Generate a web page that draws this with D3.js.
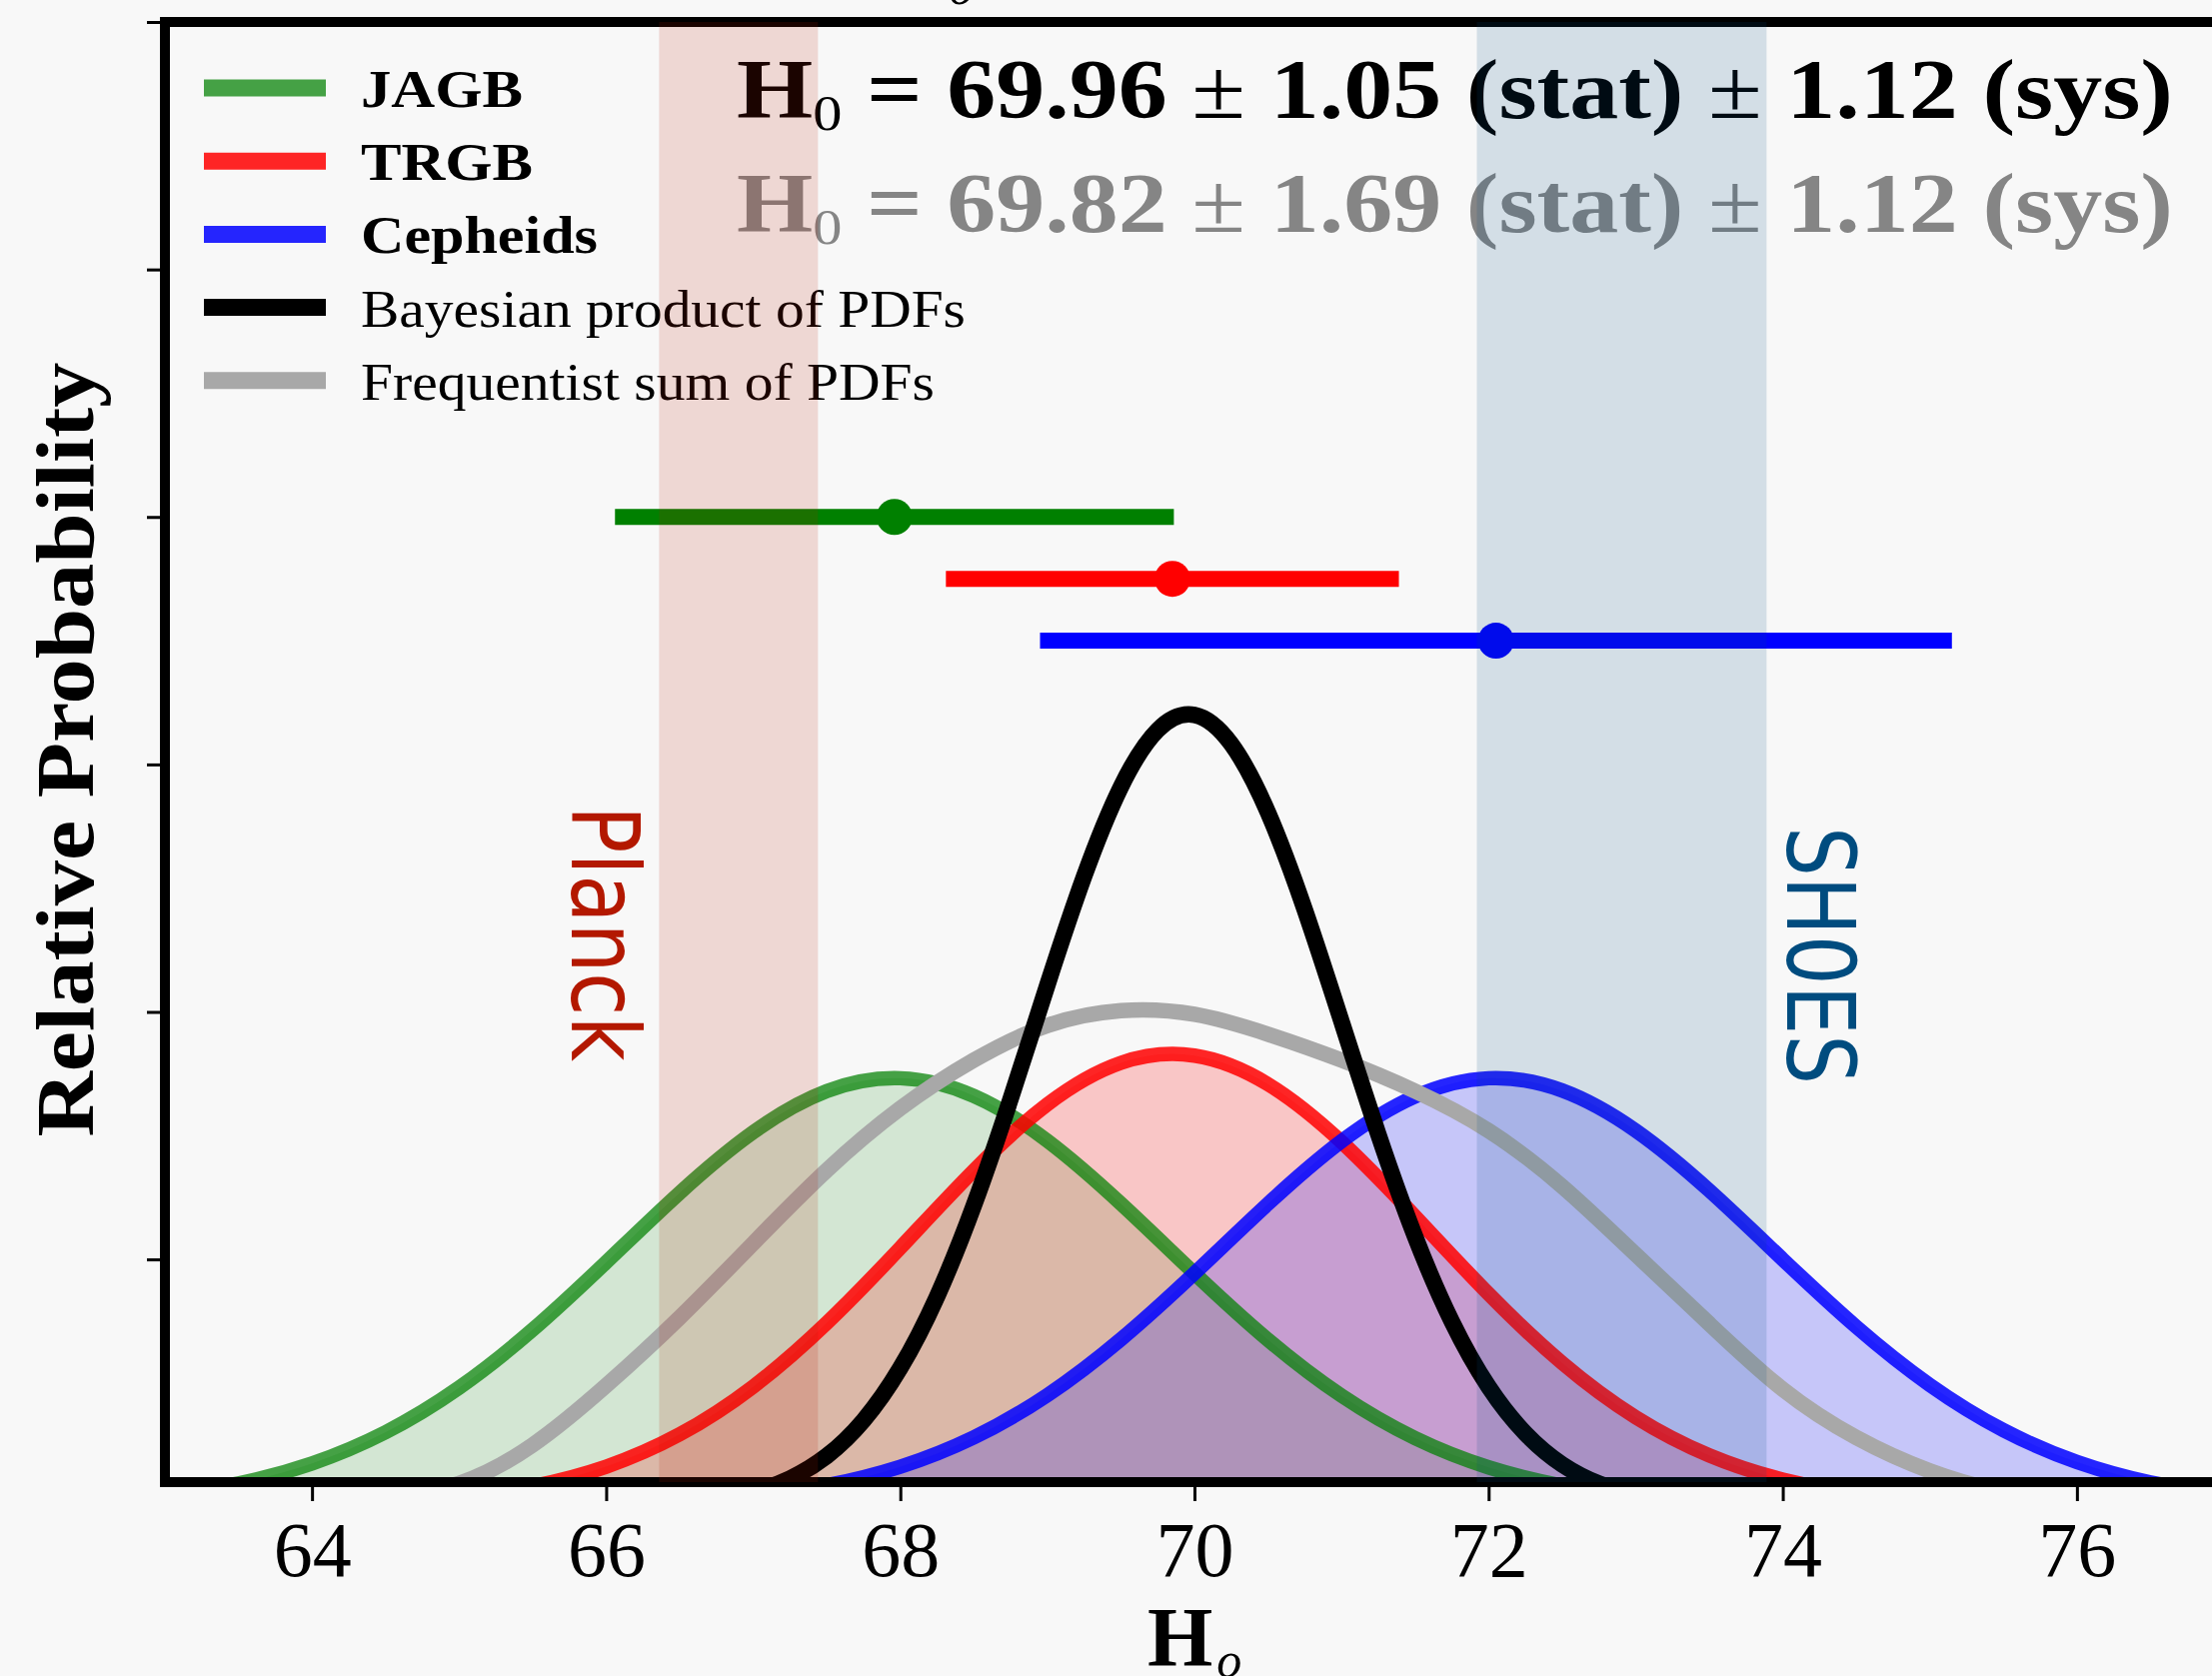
<!DOCTYPE html>
<html>
<head>
<meta charset="utf-8">
<script src="https://cdn.jsdelivr.net/npm/d3@7"></script>
<style>
  html, body { margin: 0; padding: 0; background: #f8f8f8; }
  svg { display: block; }
</style>
</head>
<body>
<div id="viz"></div>
<script>
"use strict";

// H0 grid (km/s/Mpc) for the method PDFs and the frequentist sum
const hGrid = [63.0, 63.5, 64.0, 64.5, 65.0, 65.5, 66.0, 66.5, 67.0, 67.5,
               68.0, 68.5, 69.0, 69.5, 70.0, 70.5, 71.0, 71.5, 72.0, 72.5,
               73.0, 73.5, 74.0, 74.5, 75.0, 75.5, 76.0, 76.5, 77.0];

const jagbPdf = [0.0095, 0.0190, 0.0351, 0.0603, 0.0963, 0.1431, 0.1977, 0.2538, 0.3028, 0.3360,
                 0.3464, 0.3321, 0.2958, 0.2450, 0.1887, 0.1350, 0.0898, 0.0555, 0.0319, 0.0171,
                 0.0085, 0.0039, 0.0017, 0.0007, 0.0002, 0.0001, 0.0, 0.0, 0.0];

const trgbPdf = [0.0002, 0.0005, 0.0014, 0.0034, 0.0079, 0.0167, 0.0325, 0.0586, 0.0972, 0.1486,
                 0.2093, 0.2718, 0.3253, 0.3588, 0.3647, 0.3416, 0.2949, 0.2347, 0.1721, 0.1163,
                 0.0724, 0.0416, 0.0220, 0.0107, 0.0048, 0.0020, 0.0008, 0.0003, 0.0001];

const cepheidPdf = [0.0, 0.0, 0.0, 0.0001, 0.0003, 0.0007, 0.0017, 0.0040, 0.0087, 0.0174,
                    0.0324, 0.0561, 0.0903, 0.1354, 0.1888, 0.2449, 0.2955, 0.3317, 0.3464, 0.3365,
                    0.3041, 0.2557, 0.2000, 0.1455, 0.0985, 0.0620, 0.0363, 0.0198, 0.0100];

const sumPdf = [0.000, 0.001, 0.003, 0.008, 0.019, 0.050, 0.098, 0.153, 0.213, 0.272,
                0.322, 0.361, 0.389, 0.401, 0.398, 0.382, 0.361, 0.336, 0.304, 0.259,
                0.204, 0.148, 0.095, 0.056, 0.029, 0.012, 0.004, 0.001, 0.000];

// finer grid for the narrow Bayesian product
const hGridFine = [66.0, 66.25, 66.5, 66.75, 67.0, 67.25, 67.5, 67.75, 68.0, 68.25, 68.5,
                   68.75, 69.0, 69.25, 69.5, 69.75, 70.0, 70.25, 70.5, 70.75, 71.0, 71.25,
                   71.5, 71.75, 72.0, 72.25, 72.5, 72.75, 73.0, 73.25, 73.5, 73.75, 74.0];

const productPdf = [0.0005, 0.0012, 0.0028, 0.0060, 0.0120, 0.0229, 0.0411, 0.0699, 0.1122, 0.1700, 0.2436,
                    0.3297, 0.4217, 0.5096, 0.5819, 0.6278, 0.6400, 0.6165, 0.5611, 0.4826, 0.3922, 0.3012,
                    0.2185, 0.1497, 0.0970, 0.0594, 0.0343, 0.0188, 0.0097, 0.0047, 0.0022, 0.0010, 0.0004];

// per-method H0 and systematic error bars
const methods = ["JAGB", "TRGB", "Cepheids"];
const methodH0 = [67.96, 69.85, 72.05];
const methodSys = [1.90, 1.54, 3.10];
const methodBarLevel = [0.80, 0.75, 0.70];

// combined results: [H0, stat, sys]
const bayesResult = [69.96, 1.05, 1.12];
const freqResult = [69.82, 1.69, 1.12];

const planckRange = [66.36, 67.44];
const shoesRange = [71.92, 73.89];

const xTicks = [64, 66, 68, 70, 72, 74, 76];
const yTicks = [0.2, 0.4, 0.6, 0.8, 1.0, 1.2];
const legendLabels = ["JAGB", "TRGB", "Cepheids", "Bayesian product of PDFs", "Frequentist sum of PDFs"];

function initChart() {
    let W = 2213, H = 1677;
    let plot = {left: 165, right: 2225, top: 22, bottom: 1483};
    let serif = "'Liberation Serif', 'Times New Roman', serif";

    let methodColors = ["#008000", "#ff0000", "#0000ff"];
    let lineOpacity = [0.72, 0.85, 0.85];
    let fillOpacity = [0.15, 0.2, 0.2];

    let svg = d3.select('#viz')
                .append('svg')
                .attr('width', W)
                .attr('height', H);

    svg.append('rect').attr('width', W).attr('height', H).attr('fill', '#f8f8f8');

    let xScale = d3.scaleLinear().domain([63, 77]).range([plot.left, plot.right]);
    let yScale = d3.scaleLinear().domain([0.02, 1.2]).range([plot.bottom, plot.top]);

    svg.append('defs').append('clipPath').attr('id', 'plotClip')
       .append('rect')
       .attr('x', plot.left).attr('y', plot.top)
       .attr('width', plot.right - plot.left).attr('height', plot.bottom - plot.top);

    let body = svg.append('g').attr('clip-path', 'url(#plotClip)');

    let area = d3.area()
                 .x(d => xScale(d[0]))
                 .y0(yScale(0))
                 .y1(d => yScale(d[1]))
                 .curve(d3.curveNatural);
    let line = d3.line()
                 .x(d => xScale(d[0]))
                 .y(d => yScale(d[1]))
                 .curve(d3.curveNatural);

    let methodPdfs = [jagbPdf, trgbPdf, cepheidPdf].map(p => d3.zip(hGrid, p));

    // shaded PDFs
    methodPdfs.forEach((pts, i) => {
        body.append('path')
            .attr('d', area(pts))
            .attr('fill', methodColors[i])
            .attr('fill-opacity', fillOpacity[i]);
    });
    methodPdfs.forEach((pts, i) => {
        body.append('path')
            .attr('d', line(pts))
            .attr('fill', 'none')
            .attr('stroke', methodColors[i])
            .attr('stroke-opacity', lineOpacity[i])
            .attr('stroke-width', 14.5);
    });

    body.append('path')
        .attr('d', line(d3.zip(hGrid, sumPdf)))
        .attr('fill', 'none')
        .attr('stroke', '#a8a8a8')
        .attr('stroke-width', 15.5);

    body.append('path')
        .attr('d', line(d3.zip(hGridFine, productPdf)))
        .attr('fill', 'none')
        .attr('stroke', '#000')
        .attr('stroke-width', 16.5);

    // error bars (systematic) with central values
    let bars = svg.append('g');
    methods.forEach((m, i) => {
        bars.append('line')
            .attr('x1', xScale(methodH0[i] - methodSys[i]))
            .attr('x2', xScale(methodH0[i] + methodSys[i]))
            .attr('y1', yScale(methodBarLevel[i]))
            .attr('y2', yScale(methodBarLevel[i]))
            .attr('stroke', methodColors[i])
            .attr('stroke-width', 16);
        bars.append('circle')
            .attr('cx', xScale(methodH0[i]))
            .attr('cy', yScale(methodBarLevel[i]))
            .attr('r', 18)
            .attr('fill', methodColors[i]);
    });

    // legend
    let legendStyles = [
        {color: methodColors[0], opacity: lineOpacity[0], bold: true, width: 162},
        {color: methodColors[1], opacity: lineOpacity[1], bold: true, width: 172},
        {color: methodColors[2], opacity: lineOpacity[2], bold: true, width: 237},
        {color: '#000', opacity: 1, bold: false, width: 605},
        {color: '#a8a8a8', opacity: 1, bold: false, width: 574}
    ];
    let legend = svg.append('g');
    legendLabels.forEach((lab, i) => {
        let cy = 88 + i * 73.2;
        let st = legendStyles[i];
        legend.append('line')
              .attr('x1', 204).attr('x2', 326)
              .attr('y1', cy).attr('y2', cy)
              .attr('stroke', st.color)
              .attr('stroke-opacity', st.opacity)
              .attr('stroke-width', 17);
        legend.append('text')
              .attr('x', 361)
              .attr('y', cy + 19)
              .attr('font-family', serif)
              .attr('font-size', 53)
              .attr('font-weight', st.bold ? 'bold' : 'normal')
              .attr('textLength', st.width)
              .attr('lengthAdjust', 'spacingAndGlyphs')
              .text(lab);
    });

    // combined H0 results
    function resultText(res, y, color) {
        let t = svg.append('text')
                   .attr('x', 737).attr('y', y)
                   .attr('font-family', serif)
                   .attr('font-size', 84)
                   .attr('font-weight', 'bold')
                   .attr('fill', color)
                   .attr('textLength', 1437)
                   .attr('lengthAdjust', 'spacingAndGlyphs');
        t.append('tspan').text('H');
        t.append('tspan').attr('font-weight', 'normal').attr('font-size', 50).attr('dy', 12).text('0');
        t.append('tspan').attr('dy', -12).text(' = ' + res[0].toFixed(2) + ' ');
        t.append('tspan').attr('font-weight', 'normal').text('\u00b1');
        t.append('tspan').text(' ' + res[1].toFixed(2) + ' (stat) ');
        t.append('tspan').attr('font-weight', 'normal').text('\u00b1');
        t.append('tspan').text(' ' + res[2].toFixed(2) + ' (sys)');
    }
    resultText(bayesResult, 118, '#000');
    resultText(freqResult, 232, '#858585');

    // Planck / SH0ES labels
    svg.append('text')
       .attr('transform', 'translate(572,806) rotate(90)')
       .attr('font-family', "'DejaVu Sans', sans-serif")
       .attr('font-size', 95)
       .attr('fill', '#b31800')
       .attr('textLength', 256)
       .attr('lengthAdjust', 'spacingAndGlyphs')
       .text('Planck');
    svg.append('text')
       .attr('transform', 'translate(1788,827) rotate(90)')
       .attr('font-family', "'DejaVu Sans', sans-serif")
       .attr('font-size', 95)
       .attr('fill', '#004c7f')
       .attr('textLength', 258)
       .attr('lengthAdjust', 'spacingAndGlyphs')
       .text('SH0ES');

    // frame
    svg.append('rect')
       .attr('x', plot.left).attr('y', plot.top)
       .attr('width', plot.right - plot.left).attr('height', plot.bottom - plot.top)
       .attr('fill', 'none')
       .attr('stroke', '#000')
       .attr('stroke-width', 10);

    // axes
    let xAxis = d3.axisBottom(xScale)
                  .tickValues(xTicks)
                  .tickSize(19)
                  .tickSizeOuter(0)
                  .tickPadding(20)
                  .tickFormat(d3.format('d'));
    svg.append('g')
       .attr('transform', `translate(0,${plot.bottom})`)
       .call(xAxis)
       .attr('font-family', serif)
       .attr('font-size', 78)
       .call(g => g.select('.domain').remove())
       .call(g => g.selectAll('line').attr('stroke', '#000').attr('stroke-width', 3))
       .call(g => g.selectAll('text').attr('fill', '#000'));

    let yAxis = d3.axisLeft(yScale)
                  .tickValues(yTicks)
                  .tickSize(18)
                  .tickSizeOuter(0)
                  .tickFormat('');
    svg.append('g')
       .attr('transform', `translate(${plot.left},0)`)
       .call(yAxis)
       .call(g => g.select('.domain').remove())
       .call(g => g.selectAll('line').attr('stroke', '#000').attr('stroke-width', 3));

    // axis labels
    svg.append('text')
       .attr('transform', 'translate(93,750) rotate(-90)')
       .attr('text-anchor', 'middle')
       .attr('font-family', serif)
       .attr('font-size', 82)
       .attr('font-weight', 'bold')
       .attr('textLength', 775)
       .attr('lengthAdjust', 'spacingAndGlyphs')
       .text('Relative Probability');

    let xl = svg.append('text')
                .attr('x', 1148).attr('y', 1667)
                .attr('font-family', serif)
                .attr('font-size', 84)
                .attr('font-weight', 'bold');
    xl.append('tspan').text('H');
    xl.append('tspan').attr('dx', 4).attr('dy', 11)
      .attr('font-size', 50).attr('font-weight', 'normal').attr('font-style', 'italic').text('o');

    // title sits above the canvas, only its subscript peeks in
    let tl = svg.append('text')
                .attr('x', 880).attr('y', -8)
                .attr('font-family', serif)
                .attr('font-size', 84)
                .attr('font-weight', 'bold');
    tl.append('tspan').text('H');
    tl.append('tspan').attr('dx', 4).attr('dy', 12)
      .attr('font-size', 50).attr('font-weight', 'normal').attr('font-style', 'italic').text('o');

    // Planck and SH0ES bands on top
    [[planckRange, '#b31800'], [shoesRange, '#004c7f']].forEach(b => {
        svg.append('rect')
           .attr('x', xScale(b[0][0]))
           .attr('y', plot.top)
           .attr('width', xScale(b[0][1]) - xScale(b[0][0]))
           .attr('height', plot.bottom - plot.top)
           .attr('fill', b[1])
           .attr('fill-opacity', 0.15);
    });
}

initChart();
</script>
</body>
</html>
